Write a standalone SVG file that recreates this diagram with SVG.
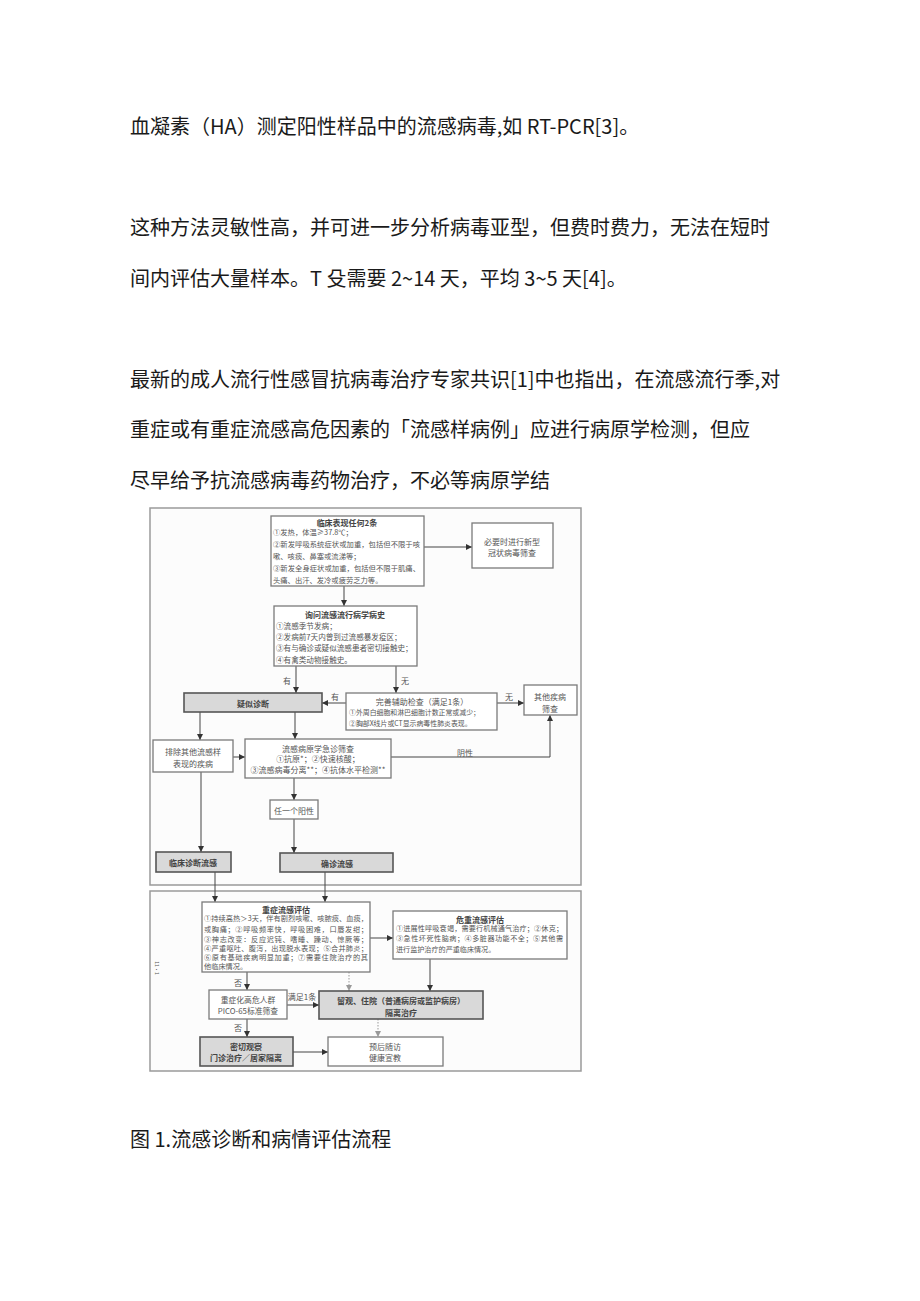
<svg xmlns="http://www.w3.org/2000/svg" width="920" height="1301" viewBox="0 0 920 1301">
<defs>
<style>
.doc{font-family:"Noto Sans CJK SC","Noto Sans",sans-serif;font-size:20px;fill:#1a1a1a}
.t{font-family:"Noto Sans CJK SC",sans-serif;font-size:8px;fill:#555;dominant-baseline:central}
.m{text-anchor:middle}
.b{font-weight:bold;fill:#444}
.s{font-size:7.3px}
.panel{fill:#fcfcfc;stroke:#9a9a9a;stroke-width:1.5}
.box{fill:#fff;stroke:#7a7a7a;stroke-width:1.3}
.gbox{fill:#d9d9d9;stroke:#555;stroke-width:1.6}
.ln{stroke:#444;stroke-width:1;fill:none}
.dash{stroke:#999;stroke-width:1;fill:none;stroke-dasharray:1.5 1.5}
</style>
<marker id="ah" markerWidth="6" markerHeight="6" refX="6" refY="3" orient="auto" markerUnits="userSpaceOnUse"><path d="M0,0 L6,3 L0,6 z" fill="#333"/></marker>
<marker id="ahl" markerWidth="6" markerHeight="6" refX="6" refY="3" orient="auto" markerUnits="userSpaceOnUse"><path d="M0,0 L6,3 L0,6 z" fill="#999"/></marker>
</defs>
<rect width="920" height="1301" fill="#fff"/>
<g id="body-text">
<text class="doc" x="130" y="134">血凝素（HA）测定阳性样品中的流感病毒,如 RT-PCR[3]。</text>
<text class="doc" x="130" y="235">这种方法灵敏性高，并可进一步分析病毒亚型，但费时费力，无法在短时</text>
<text class="doc" x="130" y="286">间内评估大量样本。T 殳需要 2~14 天，平均 3~5 天[4]。</text>
<text class="doc" x="130" y="387">最新的成人流行性感冒抗病毒治疗专家共识[1]中也指出，在流感流行季,对</text>
<text class="doc" x="130" y="437">重症或有重症流感高危因素的「流感样病例」应进行病原学检测，但应</text>
<text class="doc" x="130" y="488">尽早给予抗流感病毒药物治疗，不必等病原学结</text>
<text class="doc" x="130" y="1147">图 1.流感诊断和病情评估流程</text>
</g>
<g id="panels">
<rect class="panel" x="150" y="508" width="431" height="377"/>
<rect class="panel" x="150" y="891" width="431" height="180"/>
<text class="t" x="157" y="968" font-size="5" fill="#888" transform="rotate(90 157 968)" text-anchor="middle" style="font-size:5px">11·1</text>
</g>
<g id="connectors">
<path class="ln" d="M424,547 H472" marker-end="url(#ah)"/>
<path class="ln" d="M344,586 V606" marker-end="url(#ah)"/>
<path class="ln" d="M296,666 V693" marker-end="url(#ah)"/>
<path class="ln" d="M396,666 V693" marker-end="url(#ah)"/>
<path class="ln" d="M346,703 H322" marker-end="url(#ah)"/>
<path class="ln" d="M497,703 H524" marker-end="url(#ah)"/>
<path class="ln" d="M200,712 V740" marker-end="url(#ah)"/>
<path class="ln" d="M295,712 V739" marker-end="url(#ah)"/>
<path class="ln" d="M233,757 H245" marker-end="url(#ah)"/>
<path class="ln" d="M391,757 H550 V715" marker-end="url(#ah)"/>
<path class="ln" d="M294,778 V800" marker-end="url(#ah)"/>
<path class="ln" d="M294,819 V853" marker-end="url(#ah)"/>
<path class="ln" d="M201,772 V852" marker-end="url(#ah)"/>
<path class="ln" d="M215,872 V902" marker-end="url(#ah)"/>
<path class="ln" d="M325,872 V902" marker-end="url(#ah)"/>
<path class="ln" d="M370,938 H393" marker-end="url(#ah)"/>
<path class="ln" d="M247,972 V990" marker-end="url(#ah)"/>
<path class="dash" d="M349,972 V991" marker-end="url(#ahl)"/>
<path class="ln" d="M430,959 V991" marker-end="url(#ah)"/>
<path class="ln" d="M287,1005 H319" marker-end="url(#ah)"/>
<path class="ln" d="M247,1019 V1037" marker-end="url(#ah)"/>
<path class="ln" d="M293,1052 H328" marker-end="url(#ah)"/>
<path class="dash" d="M378,1019 V1037" marker-end="url(#ahl)"/>
<text class="t m" x="287" y="680">有</text>
<text class="t m" x="405" y="680">无</text>
<text class="t m" x="335" y="696">有</text>
<text class="t m" x="509" y="696">无</text>
<text class="t m" x="465" y="752">阴性</text>
<text class="t m" x="238" y="982">否</text>
<text class="t m" x="302" y="996">满足1条</text>
<text class="t m" x="238" y="1027">否</text>
</g>
<g id="n-clinical">
<rect class="box" x="271" y="516" width="153" height="70"/>
<text class="t m b" x="347" y="522">临床表现任何2条</text>
<text class="t s" x="273" y="532">①发热，体温≥37.8℃；</text>
<text class="t s" x="273" y="544" textLength="147">②新发呼吸系统症状或加重，包括但不限于咳</text>
<text class="t s" x="273" y="556">嗽、咳痰、鼻塞或流涕等；</text>
<text class="t s" x="273" y="568" textLength="147">③新发全身症状或加重，包括但不限于肌痛、</text>
<text class="t s" x="273" y="580">头痛、出汗、发冷或疲劳乏力等。</text>
</g>
<g id="n-covid">
<rect class="box" x="472" y="523" width="81" height="45"/>
<text class="t m" x="512" y="541">必要时进行新型</text>
<text class="t m" x="512" y="552">冠状病毒筛查</text>
</g>
<g id="n-epi">
<rect class="box" x="274" y="606" width="143" height="60"/>
<text class="t m b" x="345" y="614">询问流感流行病学病史</text>
<text class="t" x="276" y="625" style="font-size:7.6px">①流感季节发病；</text>
<text class="t" x="276" y="636" style="font-size:7.6px">②发病前7天内曾到过流感暴发疫区；</text>
<text class="t" x="276" y="647" style="font-size:7.6px">③有与确诊或疑似流感患者密切接触史；</text>
<text class="t" x="276" y="659" style="font-size:7.6px">④有禽类动物接触史。</text>
</g>
<g id="n-suspect">
<rect class="gbox" x="184" y="693" width="138" height="19"/>
<text class="t m b" x="253" y="703">疑似诊断</text>
</g>
<g id="n-aux">
<rect class="box" x="346" y="693" width="151" height="37"/>
<text class="t m" x="422" y="701">完善辅助检查（满足1条）</text>
<text class="t" x="349" y="712" style="font-size:6.9px">①外周白细胞和淋巴细胞计数正常或减少；</text>
<text class="t" x="349" y="723" style="font-size:6.9px">②胸部X线片或CT显示病毒性肺炎表现。</text>
</g>
<g id="n-other">
<rect class="box" x="524" y="685" width="53" height="30"/>
<text class="t m" x="550" y="696">其他疾病</text>
<text class="t m" x="550" y="708">筛查</text>
</g>
<g id="n-exclude">
<rect class="box" x="153" y="740" width="80" height="32"/>
<text class="t m" x="193" y="751">排除其他流感样</text>
<text class="t m" x="193" y="763">表现的疾病</text>
</g>
<g id="n-pathogen">
<rect class="box" x="245" y="739" width="146" height="39"/>
<text class="t m" x="318" y="748">流感病原学急诊筛查</text>
<text class="t m" x="318" y="758">①抗原*；②快速核酸；</text>
<text class="t m" x="318" y="769">③流感病毒分离**；④抗体水平检测**</text>
</g>
<g id="n-positive">
<rect class="box" x="270" y="800" width="48" height="19"/>
<text class="t m" x="294" y="810">任一个阳性</text>
</g>
<g id="n-confirmed">
<rect class="gbox" x="280" y="853" width="113" height="19"/>
<text class="t m b" x="337" y="863">确诊流感</text>
</g>
<g id="n-clindiag">
<rect class="gbox" x="156" y="852" width="75" height="20"/>
<text class="t m b" x="193" y="862">临床诊断流感</text>
</g>
<g id="n-severe">
<rect class="box" x="202" y="902" width="168" height="70"/>
<text class="t m b" x="286" y="909">重症流感评估</text>
<text class="t" x="204" y="918" style="font-size:7.2px" textLength="164">①持续高热＞3天，伴有剧烈咳嗽、咳脓痰、血痰，</text>
<text class="t" x="204" y="929" style="font-size:7.2px" textLength="164">或胸痛；②呼吸频率快，呼吸困难，口唇发绀；</text>
<text class="t" x="204" y="939" style="font-size:7.2px" textLength="164">③神志改变：反应迟钝、嗜睡、躁动、惊厥等；</text>
<text class="t" x="204" y="948" style="font-size:7.2px" textLength="164">④严重呕吐、腹泻，出现脱水表现；⑤合并肺炎；</text>
<text class="t" x="204" y="957" style="font-size:7.2px" textLength="164">⑥原有基础疾病明显加重；⑦需要住院治疗的其</text>
<text class="t" x="204" y="966" style="font-size:7.2px">他临床情况。</text>
</g>
<g id="n-critical">
<rect class="box" x="393" y="911" width="174" height="48"/>
<text class="t m b" x="480" y="919">危重流感评估</text>
<text class="t" x="396" y="928" style="font-size:7.1px" textLength="167">①进展性呼吸衰竭，需要行机械通气治疗；②休克；</text>
<text class="t" x="396" y="938" style="font-size:7.1px" textLength="167">③急性坏死性脑病；④多脏器功能不全；⑤其他需</text>
<text class="t" x="396" y="949" style="font-size:7.1px">进行监护治疗的严重临床情况。</text>
</g>
<g id="n-highrisk">
<rect class="box" x="209" y="990" width="78" height="29"/>
<text class="t m" x="248" y="999" style="font-size:7.8px">重症化高危人群</text>
<text class="t m" x="248" y="1010" style="font-size:7.8px">PICO-65标准筛查</text>
</g>
<g id="n-admit">
<rect class="gbox" x="319" y="991" width="164" height="28"/>
<text class="t m b" x="401" y="1000">留观、住院（普通病房或监护病房）</text>
<text class="t m b" x="401" y="1012">隔离治疗</text>
</g>
<g id="n-observe">
<rect class="gbox" x="200" y="1037" width="93" height="29"/>
<text class="t m b" x="246" y="1046">密切观察</text>
<text class="t m b" x="246" y="1057">门诊治疗／居家隔离</text>
</g>
<g id="n-followup">
<rect class="box" x="328" y="1037" width="115" height="29"/>
<text class="t m" x="385" y="1046">预后随访</text>
<text class="t m" x="385" y="1057">健康宣教</text>
</g>
</svg>
